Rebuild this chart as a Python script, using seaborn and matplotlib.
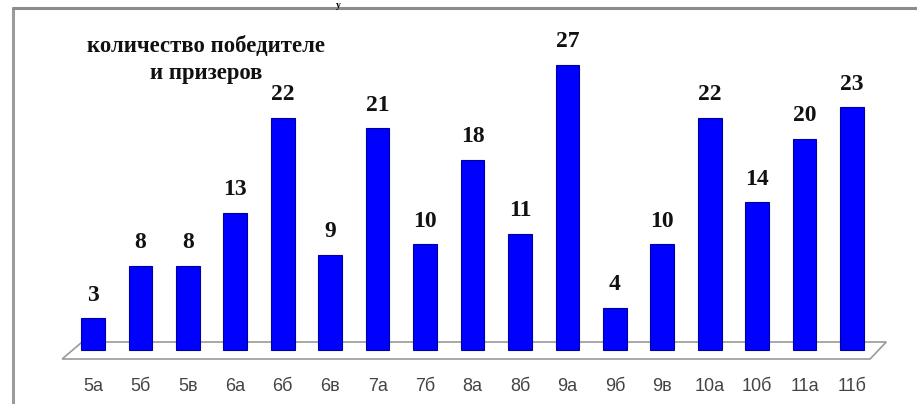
import numpy as np
import pandas as pd
import matplotlib
matplotlib.use("Agg")
import matplotlib.pyplot as plt
import seaborn as sns
from matplotlib.patches import Polygon
from matplotlib.lines import Line2D

# data
classes = ["5а", "5б", "5в", "6а", "6б", "6в", "7а", "7б", "8а",
           "8б", "9а", "9б", "9в", "10а", "10б", "11а", "11б"]
winners = [3, 8, 8, 13, 22, 9, 21, 10, 18, 11, 27, 4, 10, 22, 14, 20, 23]
title_lines = ["количество победителе", "и призеров"]

df = pd.DataFrame({"class": classes, "count": winners})

sns.set_style("white")
plt.rcParams["font.family"] = ["Liberation Serif", "DejaVu Serif"]

W, H = 917, 404
fig = plt.figure(figsize=(W / 100, H / 100), dpi=100)

# axes placed so the bars land where the reference has them
ax = fig.add_axes([50 / W, (H - 359) / H, (895 - 50) / W, (359 - 20) / H])

sns.barplot(data=df, x="class", y="count", color="#0000ff", width=0.5,
            edgecolor="#0000a0", linewidth=0.8, saturation=1, ax=ax, zorder=3)

ax.set_xlim(-0.906, 16.905)
ax.set_ylim(-0.85, 31.25)

# perspective floor under the bars
floor = Polygon([(-0.65, -0.85), (16.38, -0.85), (16.72, 0.76), (-0.23, 0.76)],
                closed=True, facecolor="white", edgecolor="#9a9a9a",
                linewidth=1.2, zorder=1, clip_on=False)
ax.add_patch(floor)

for s in ax.spines.values():
    s.set_visible(False)
ax.set_yticks([])
ax.set_xlabel("")
ax.set_ylabel("")

ax.set_xticks(range(len(classes)))
ax.set_xticklabels(classes, family=["Liberation Sans Narrow", "Liberation Sans"],
                   fontsize=13, color="#444444")
ax.tick_params(axis="x", which="major", length=0, pad=14)
ax.set_xticks(np.arange(-0.63, 16.5, 1.0), minor=True)
ax.tick_params(axis="x", which="minor", length=4, width=1, color="#9a9a9a",
               direction="out")

ax.bar_label(ax.containers[0], padding=9, fontsize=17, fontweight="bold",
             family="Liberation Serif", color="#111111")

# heading inside the frame
fig.text(206 / W, (H - 60) / H, "\n".join(title_lines), ha="center", va="center",
         fontsize=16.4, fontweight="bold", family="Liberation Serif",
         linespacing=1.4, color="#111111")

# heading fragment above the frame
fig.text(338 / W, (H - 1) / H, "у", ha="center", va="top", fontsize=7,
         fontweight="bold", family="Liberation Serif", color="black")

# frame around the chart
fig.add_artist(Line2D([13 / W, 13 / W], [0, (H - 8) / H], color="#9c9c9c",
                      lw=2.2, transform=fig.transFigure))
fig.add_artist(Line2D([13 / W, 1], [(H - 8) / H, (H - 8) / H], color="#8c8c8c",
                      lw=2.2, transform=fig.transFigure))

fig.savefig("out.png", dpi=100)
